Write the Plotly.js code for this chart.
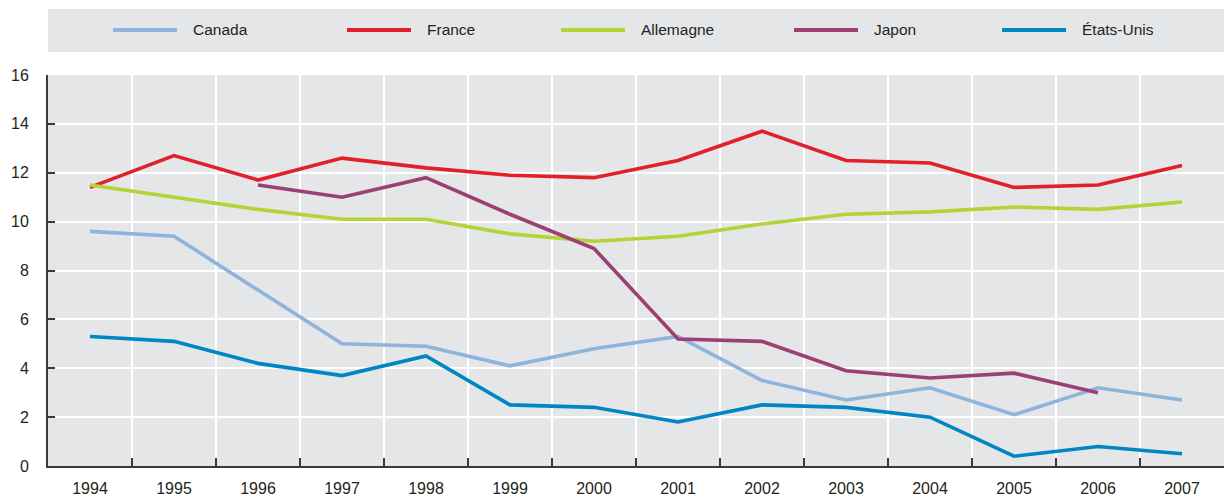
<!DOCTYPE html>
<html>
<head>
<meta charset="utf-8">
<script src="https://cdn.plot.ly/plotly-3.0.1.min.js"></script>
<style>
  html, body { margin: 0; padding: 0; background: #ffffff; }
  #chart { width: 1224px; height: 498px; }
</style>
</head>
<body>
<div id="chart"></div>
<script>
// ---- Data ----
const years = ["1994","1995","1996","1997","1998","1999","2000","2001","2002","2003","2004","2005","2006","2007"];
const canada    = [9.6, 9.4, 7.2, 5.0, 4.9, 4.1, 4.8, 5.3, 3.5, 2.7, 3.2, 2.1, 3.2, 2.7];
const france    = [11.4, 12.7, 11.7, 12.6, 12.2, 11.9, 11.8, 12.5, 13.7, 12.5, 12.4, 11.4, 11.5, 12.3];
const allemagne = [11.5, 11.0, 10.5, 10.1, 10.1, 9.5, 9.2, 9.4, 9.9, 10.3, 10.4, 10.6, 10.5, 10.8];
const japon     = [null, null, 11.5, 11.0, 11.8, 10.3, 8.9, 5.2, 5.1, 3.9, 3.6, 3.8, 3.0, null];
const etatsUnis = [5.3, 5.1, 4.2, 3.7, 4.5, 2.5, 2.4, 1.8, 2.5, 2.4, 2.0, 0.4, 0.8, 0.5];
const seriesNames = ["Canada", "France", "Allemagne", "Japon", "États-Unis"];
const yTicks = [0, 2, 4, 6, 8, 10, 12, 14, 16];

// ---- Styles ----
const colors = ["#8DB4DA", "#E2202A", "#B4D334", "#9C3F74", "#0086C2"];
const seriesData = [canada, france, allemagne, japon, etatsUnis];
const FONT = '"Liberation Sans", Arial, sans-serif';

// plot area in px (for legend placement)
const W = 1224, H = 498;
const mL = 48, mR = 0, mT = 75, mB = 32;
const plotW = W - mL - mR, plotH = H - mT - mB;
const px2x = p => (p - mL) / plotW;
const px2y = p => (H - mB - p) / plotH;
const legendLineStart = [113, 347, 561, 794, 1002];
const legendLineLen = 64;
const legendTextGap = 14;
const legendY = 30;

const traces = seriesNames.map((name, i) => ({
  type: "scatter",
  mode: "lines",
  name: name,
  x: years,
  y: seriesData[i],
  connectgaps: false,
  line: { color: colors[i], width: 3.6 },
  hoverinfo: "x+y+name"
}));

const shapes = [{
  type: "rect", xref: "paper", yref: "paper", layer: "below",
  x0: 0, x1: 1, y0: px2y(52), y1: px2y(9),
  fillcolor: "#E5E6E8", line: { width: 0 }
}];
const annotations = [];
seriesNames.forEach((name, i) => {
  const x0 = legendLineStart[i];
  shapes.push({
    type: "line", xref: "paper", yref: "paper",
    x0: px2x(x0), x1: px2x(x0 + legendLineLen),
    y0: px2y(legendY), y1: px2y(legendY),
    line: { color: colors[i], width: 4 }
  });
  annotations.push({
    xref: "paper", yref: "paper",
    x: px2x(x0 + legendLineLen + legendTextGap), y: px2y(legendY),
    xanchor: "left", yanchor: "middle",
    text: name, showarrow: false,
    font: { family: FONT, size: 15.5, color: "#231F20" }
  });
});

const layout = {
  width: W, height: H,
  margin: { l: mL, r: mR, t: mT, b: mB, pad: 0 },
  paper_bgcolor: "#ffffff",
  plot_bgcolor: "#E5E6E8",
  showlegend: false,
  font: { family: FONT, size: 16, color: "#231F20" },
  xaxis: {
    type: "category",
    categoryorder: "array",
    categoryarray: years,
    range: [-0.5, years.length - 0.5],
    tickson: "boundaries",
    ticks: "inside",
    ticklen: 8,
    tickwidth: 1.5,
    tickcolor: "#3A3A3A",
    showgrid: true,
    gridcolor: "#ffffff",
    gridwidth: 1.5,
    showline: true,
    linecolor: "#3A3A3A",
    linewidth: 2,
    zeroline: false,
    ticklabelstandoff: 7,
    tickfont: { family: FONT, size: 16, color: "#231F20" },
    fixedrange: true
  },
  yaxis: {
    range: [0, 16],
    tickvals: yTicks,
    ticktext: yTicks.map(String),
    ticks: "inside",
    ticklen: 7,
    tickwidth: 1.5,
    tickcolor: "#3A3A3A",
    showgrid: true,
    gridcolor: "#ffffff",
    gridwidth: 1.5,
    showline: true,
    linecolor: "#3A3A3A",
    linewidth: 2,
    zeroline: false,
    ticklabelstandoff: 14,
    tickfont: { family: FONT, size: 16, color: "#231F20" },
    fixedrange: true
  },
  shapes: shapes,
  annotations: annotations
};

Plotly.newPlot("chart", traces, layout, { displayModeBar: false, staticPlot: false });
</script>
</body>
</html>
